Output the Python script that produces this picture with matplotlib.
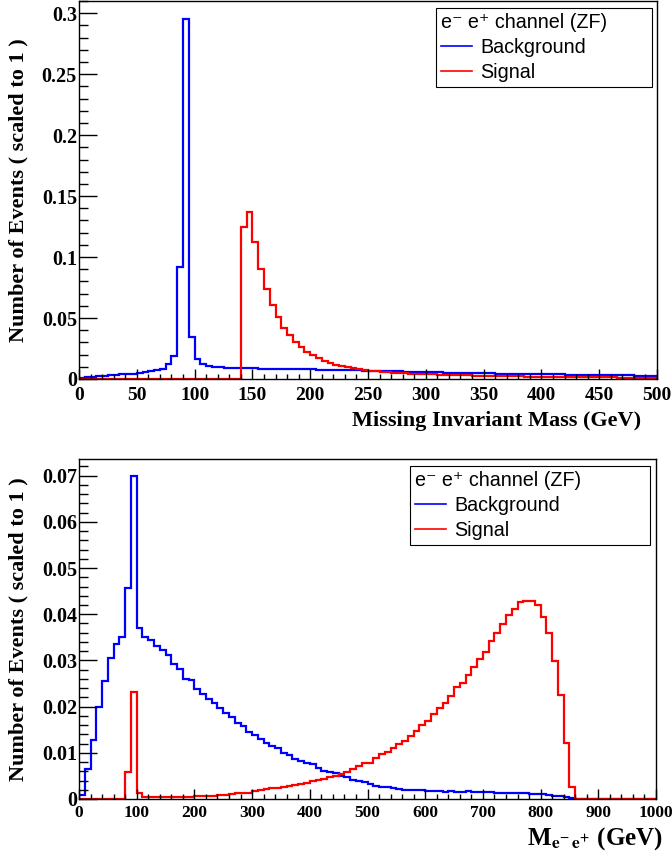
import matplotlib
matplotlib.use("Agg")
import matplotlib.pyplot as plt
from matplotlib.ticker import MultipleLocator, FuncFormatter
from matplotlib.lines import Line2D
from matplotlib.font_manager import FontProperties
import numpy as np

# --- Data: missing invariant mass (5 GeV bins, 0-500) ---
mim_edges = np.arange(0, 505, 5)
mim_background = [
    0.0010, 0.0014, 0.0018, 0.0022, 0.0026, 0.0030, 0.0033, 0.0037, 0.0041, 0.0045,
    0.0052, 0.0058, 0.0064, 0.0072, 0.0085, 0.0120, 0.0189, 0.0920, 0.2950, 0.0345,
    0.0164, 0.0123, 0.0109, 0.0101, 0.0096, 0.0093, 0.0091, 0.0089, 0.0088,
    0.0087, 0.0087, 0.0086, 0.0086, 0.0085, 0.0084, 0.0083, 0.0082, 0.0081, 0.0080,
    0.0079, 0.0078, 0.0077, 0.0076, 0.0075, 0.0074, 0.0073, 0.0072, 0.0071, 0.0070, 0.0069,
    0.0068, 0.0067, 0.0066, 0.0065, 0.0064, 0.0062, 0.0061, 0.0060, 0.0059, 0.0058,
    0.0056, 0.0055, 0.0054, 0.0053, 0.0052, 0.0051, 0.0050, 0.0049, 0.0048, 0.0047,
    0.0046, 0.0046, 0.0045, 0.0044, 0.0043, 0.0043, 0.0042, 0.0041, 0.0040, 0.0040,
    0.0039, 0.0038, 0.0037, 0.0037, 0.0036, 0.0035, 0.0035, 0.0034, 0.0033, 0.0033,
    0.0032, 0.0031, 0.0031, 0.0030, 0.0029, 0.0029, 0.0028, 0.0027, 0.0027, 0.0026,
]
mim_signal = [0.0] * 28 + [
    0.1250, 0.1370, 0.1125, 0.0905, 0.0740, 0.0605, 0.0510, 0.0415, 0.0360, 0.0305,
    0.0265, 0.0225,
    0.0197, 0.0172, 0.0150, 0.0132, 0.0117, 0.0105, 0.0095, 0.0087, 0.0080, 0.0074,
    0.0069, 0.0064, 0.0060, 0.0056, 0.0053, 0.0050, 0.0047, 0.0045, 0.0043, 0.0041,
    0.0039, 0.0037, 0.0035, 0.0034, 0.0032, 0.0031, 0.0030, 0.0029, 0.0028, 0.0027,
    0.0026, 0.0025, 0.0024, 0.0023, 0.0022, 0.0022, 0.0021, 0.0020, 0.0020, 0.0019,
    0.0018, 0.0018, 0.0017, 0.0017, 0.0016, 0.0016, 0.0015, 0.0015, 0.0014, 0.0014,
    0.0013, 0.0013, 0.0013, 0.0012, 0.0012, 0.0012, 0.0011, 0.0011, 0.0011, 0.0010,
]

# --- Data: e- e+ invariant mass (10 GeV bins, 0-1000) ---
mee_edges = np.arange(0, 1010, 10)
mee_background = [
    0.0009, 0.0064, 0.0128, 0.0199, 0.0256, 0.0305, 0.0336, 0.0351, 0.0457, 0.0700,
    0.0371, 0.0351, 0.0344, 0.0331, 0.0322, 0.0312, 0.0292, 0.0281, 0.0260, 0.0258,
    0.0238, 0.0227, 0.0216, 0.0207, 0.0198, 0.0186, 0.0177, 0.0164, 0.0159, 0.0146,
    0.0139, 0.0130, 0.0122, 0.0115, 0.0110, 0.0099, 0.0095, 0.0087, 0.0083, 0.0077,
    0.0076, 0.0067, 0.0061, 0.0058, 0.0056, 0.0050, 0.0047, 0.0041, 0.0040, 0.0036,
    0.0032, 0.0029, 0.0026, 0.0025, 0.0024, 0.0021, 0.0019, 0.0020, 0.0019, 0.0019,
    0.0018, 0.0017, 0.0017, 0.0016, 0.0017, 0.0016, 0.0016, 0.0017, 0.0016, 0.0016,
    0.0015, 0.0015, 0.0014, 0.0014, 0.0013, 0.0013, 0.0012, 0.0012, 0.0011, 0.0011,
    0.0010, 0.0009, 0.0007, 0.0006, 0.0004, 0.0002, 0.0, 0.0, 0.0, 0.0,
    0.0, 0.0, 0.0, 0.0, 0.0, 0.0, 0.0, 0.0, 0.0, 0.0,
]
mee_signal = [
    0.0001, 0.0001, 0.0001, 0.0001, 0.0001, 0.0001, 0.0001, 0.0001, 0.0059, 0.0231,
    0.0012, 0.0005, 0.0004, 0.0004, 0.0004, 0.0004, 0.0004, 0.0005, 0.0005, 0.0005,
    0.0006, 0.0006, 0.0007, 0.0007, 0.0008, 0.0009, 0.0010, 0.0012, 0.0013, 0.0014,
    0.0017, 0.0019, 0.0021, 0.0023, 0.0024, 0.0025, 0.0028, 0.0031, 0.0032, 0.0035,
    0.0038, 0.0041, 0.0044, 0.0047, 0.0050, 0.0054, 0.0058, 0.0064, 0.0071, 0.0077,
    0.0079, 0.0088, 0.0097, 0.0102, 0.0111, 0.0118, 0.0126, 0.0137, 0.0148, 0.0160,
    0.0168, 0.0183, 0.0196, 0.0208, 0.0223, 0.0242, 0.0252, 0.0268, 0.0286, 0.0303,
    0.0319, 0.0343, 0.0359, 0.0379, 0.0398, 0.0411, 0.0426, 0.0429, 0.0429, 0.0421,
    0.0393, 0.0359, 0.0299, 0.0225, 0.0121, 0.0027, 0.0, 0.0, 0.0, 0.0,
    0.0, 0.0, 0.0, 0.0, 0.0, 0.0, 0.0, 0.0, 0.0, 0.0,
]

legend_title = "e\u207b e\u207a channel (ZF)"
ylabel = "Number of Events ( scaled to 1 )"

# --- Style ---
plt.rcParams["font.family"] = ["Liberation Serif", "DejaVu Serif"]
plt.rcParams["font.weight"] = "bold"
legend_font = FontProperties(family=["Liberation Sans", "DejaVu Sans"], weight="normal", size=14.2)
label_font = FontProperties(family=["Liberation Serif", "DejaVu Serif"], weight="bold", size=16)
W, H = 672, 859

fig = plt.figure(figsize=(W / 100, H / 100), dpi=100)
ax1 = fig.add_axes([79 / W, 1 - 379 / H, 578 / W, 378 / H])
ax2 = fig.add_axes([79 / W, 1 - 799 / H, 577 / W, 340 / H])


def style_axes(ax, xmaj, xmin, ymaj, ymin, xpad, xsize):
    ax.xaxis.set_major_locator(MultipleLocator(xmaj))
    ax.xaxis.set_minor_locator(MultipleLocator(xmin))
    ax.yaxis.set_major_locator(MultipleLocator(ymaj))
    ax.yaxis.set_minor_locator(MultipleLocator(ymin))
    fmt = FuncFormatter(lambda v, p: "%g" % round(v, 6))
    ax.xaxis.set_major_formatter(fmt)
    ax.yaxis.set_major_formatter(fmt)
    ax.tick_params(which="both", direction="in", top=False, right=False, width=1.0)
    ax.tick_params(axis="y", which="major", length=13, pad=1.5, labelsize=14.5)
    ax.tick_params(axis="y", which="minor", length=6.5)
    ax.tick_params(axis="x", which="major", length=7.5, pad=xpad, labelsize=xsize)
    ax.tick_params(axis="x", which="minor", length=3.7)
    for s in ax.spines.values():
        s.set_linewidth(1.0)
    ax.set_ylabel(ylabel, fontproperties=label_font, va="center")
    ax.yaxis.set_label_coords(-0.105, 0.5)


def add_legend(ax, x0, x1, ytop, ybot):
    handles = [Line2D([], [], color="blue", lw=1.2), Line2D([], [], color="red", lw=1.2)]
    leg = ax.legend(handles, ["Background", "Signal"], title=legend_title,
                    loc="upper left", mode="expand", alignment="left",
                    bbox_to_anchor=(x0 / W, 1 - ybot / H, (x1 - x0) / W, (ybot - ytop) / H),
                    bbox_transform=fig.transFigure, borderaxespad=0,
                    prop=legend_font, title_fontproperties=legend_font,
                    fancybox=False, framealpha=1, edgecolor="black",
                    handlelength=1.6, handletextpad=0.4, labelspacing=0.3,
                    borderpad=0.25)
    leg.get_frame().set_linewidth(0.8)


# --- Top panel ---
ax1.stairs(mim_background, mim_edges, color="blue", lw=1.6)
ax1.stairs(mim_signal, mim_edges, color="red", lw=1.6)
ax1.set_xlim(0, 500)
ax1.set_ylim(0, 0.31)
style_axes(ax1, 50, 10, 0.05, 0.01, 5.5, 14)
ax1.set_xlabel("Missing Invariant Mass (GeV)", fontproperties=label_font, ha="right")
ax1.xaxis.set_label_coords(0.972, -0.085)
add_legend(ax1, 436, 652, 8, 86)

# --- Bottom panel ---
ax2.stairs(mee_background, mee_edges, color="blue", lw=1.6)
ax2.stairs(mee_signal, mee_edges, color="red", lw=1.6)
ax2.set_xlim(0, 1000)
ax2.set_ylim(0, 0.0736)
style_axes(ax2, 100, 20, 0.01, 0.002, 4.5, 12.5)
mee_font = FontProperties(family=["Liberation Serif", "DejaVu Serif"], weight="bold", size=18,
                          math_fontfamily="stix")
ax2.set_xlabel(r"M$_{\mathbf{e^{-}\,e^{+}}}$ (GeV)", fontproperties=mee_font, ha="right")
ax2.xaxis.set_label_coords(1.012, -0.078)
add_legend(ax2, 410, 650, 466, 543)

fig.savefig("out.png", dpi=100)
